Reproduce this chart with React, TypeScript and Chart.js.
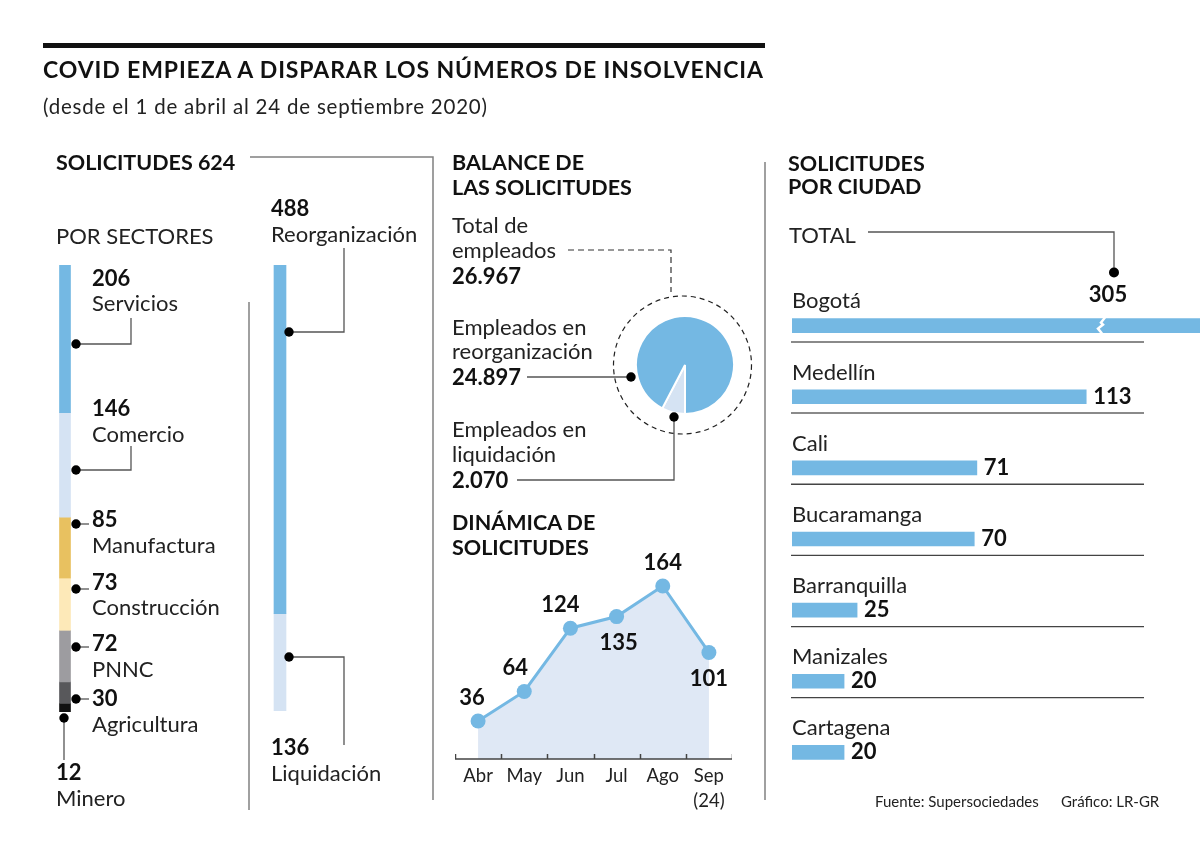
import React, { useEffect, useRef } from 'react';
import { Chart, registerables } from 'chart.js';

Chart.register(...registerables);

// ---------- DATA ----------
const TOTAL_REQUESTS = 624;
const SECTOR_NAMES = ['Servicios', 'Comercio', 'Manufactura', 'Construcción', 'PNNC', 'Agricultura', 'Minero'];
const SECTOR_VALUES = [206, 146, 85, 73, 72, 30, 12];
const STATUS_NAMES = ['Reorganización', 'Liquidación'];
const STATUS_VALUES = [488, 136];
const EMPLOYEE_NAMES = ['Empleados en liquidación', 'Empleados en reorganización'];
const EMPLOYEE_VALUES = [2070, 24897];
const TOTAL_EMPLOYEES = 26967;
const MONTHS: (string | string[])[] = ['Abr', 'May', 'Jun', 'Jul', 'Ago', ['Sep', '(24)']];
const MONTH_VALUES = [36, 64, 124, 135, 164, 101];
const CITIES = ['Bogotá', 'Medellín', 'Cali', 'Bucaramanga', 'Barranquilla', 'Manizales', 'Cartagena'];
const CITY_VALUES = [305, 113, 71, 70, 25, 20, 20];

// ---------- STYLE ----------
const FONT = 'Lato, "Noto Sans", sans-serif';
const CAP = 0.7165;
const BLUE = '#74b8e3';
const LIGHT = '#d5e3f3';
const SECTOR_COLORS = [BLUE, LIGHT, '#e8c160', '#fde9b8', '#9d9ca0', '#58585b', '#111111'];
const STATUS_COLORS = [BLUE, LIGHT];
const AREA = '#dfe8f5';
const LABEL_SIDE = ['above', 'above', 'above', 'below', 'above', 'below'];
const LABEL_DX = [-6, -9, -10, 2, 0, 0];

const fmt = (v: number) => String(v).replace(/\B(?=(\d{3})+(?!\d))/g, '.');

const base: any = {
  responsive: false,
  animation: false,
  events: [],
  plugins: { legend: { display: false }, tooltip: { enabled: false } },
  layout: { padding: 0, autoPadding: false },
};

function ChartCanvas({ left, top, width, height, build }: any) {
  const ref = useRef<HTMLCanvasElement | null>(null);
  useEffect(() => {
    const chart = new Chart(ref.current as HTMLCanvasElement, build());
    return () => chart.destroy();
  }, []);
  return (
    <canvas
      ref={ref}
      width={width}
      height={height}
      style={{ position: 'absolute', left, top, width, height }}
    />
  );
}

function Txt({ x, cy, s, b, children, len, anchor, fill }: any) {
  return (
    <text
      x={x}
      y={cy + (CAP * s) / 2}
      fontSize={s}
      fontWeight={b ? 700 : 400}
      fill={fill || (b ? '#111' : '#222')}
      fontFamily={FONT}
      textLength={len}
      lengthAdjust={len ? 'spacing' : undefined}
      textAnchor={anchor}
    >
      {children}
    </text>
  );
}

// ---------- CHART BUILDERS ----------
const buildSectors = () => ({
  type: 'bar',
  data: {
    labels: ['Sectores'],
    datasets: SECTOR_VALUES.map((v, i) => ({
      label: SECTOR_NAMES[i],
      data: [v],
      backgroundColor: SECTOR_COLORS[i],
      borderWidth: 0,
      barThickness: 11,
    })),
  },
  options: {
    ...base,
    scales: {
      x: { display: false, stacked: true },
      y: { display: false, stacked: true, reverse: true, min: 0, max: TOTAL_REQUESTS },
    },
  },
});

const buildStatus = () => ({
  type: 'bar',
  data: {
    labels: ['Estado'],
    datasets: STATUS_VALUES.map((v, i) => ({
      label: STATUS_NAMES[i],
      data: [v],
      backgroundColor: STATUS_COLORS[i],
      borderWidth: 0,
      barThickness: 12,
    })),
  },
  options: {
    ...base,
    scales: {
      x: { display: false, stacked: true },
      y: { display: false, stacked: true, reverse: true, min: 0, max: TOTAL_REQUESTS },
    },
  },
});

const buildPie = () => ({
  type: 'pie',
  data: {
    labels: EMPLOYEE_NAMES,
    datasets: [
      {
        data: EMPLOYEE_VALUES,
        backgroundColor: [LIGHT, BLUE],
        borderColor: '#ffffff',
        borderWidth: 2,
      },
    ],
  },
  options: { ...base, rotation: 180 },
});

const lineLabels = {
  id: 'lineLabels',
  afterDatasetsDraw(chart: any) {
    const { ctx, chartArea } = chart;
    const n = MONTH_VALUES.length;
    ctx.save();
    ctx.strokeStyle = '#444';
    ctx.lineWidth = 1.5;
    ctx.beginPath();
    ctx.moveTo(chartArea.left, chartArea.bottom);
    ctx.lineTo(chartArea.right, chartArea.bottom);
    const step = (chartArea.right - chartArea.left) / n;
    for (let i = 0; i <= n; i++) {
      const px = Math.round(chartArea.left + i * step) + 0.5;
      ctx.moveTo(px, chartArea.bottom - 5);
      ctx.lineTo(px, chartArea.bottom);
    }
    ctx.stroke();
    const meta = chart.getDatasetMeta(0);
    ctx.font = `bold 22px ${FONT}`;
    ctx.fillStyle = '#111';
    ctx.textAlign = 'center';
    ctx.textBaseline = 'alphabetic';
    meta.data.forEach((pt: any, i: number) => {
      const dy = LABEL_SIDE[i] === 'above' ? -24 : 26;
      ctx.fillText(String(MONTH_VALUES[i]), pt.x + LABEL_DX[i], pt.y + dy + CAP * 11);
    });
    ctx.restore();
  },
};

const buildLine = () => ({
  type: 'line',
  data: {
    labels: MONTHS,
    datasets: [
      {
        data: MONTH_VALUES,
        borderColor: BLUE,
        borderWidth: 3,
        backgroundColor: AREA,
        fill: 'origin',
        tension: 0,
        pointRadius: 7.5,
        pointBackgroundColor: BLUE,
        pointBorderWidth: 0,
        clip: false,
      },
    ],
  },
  options: {
    ...base,
    scales: {
      x: {
        offset: true,
        grid: { display: false },
        border: { display: false },
        ticks: {
          color: '#222',
          padding: -3,
          font: { family: FONT, size: 18.5, lineHeight: 1.35 },
          maxRotation: 0,
          autoSkip: false,
        },
        afterFit: (scale: any) => {
          scale.height = 60;
        },
      },
      y: { display: false, min: 0, max: 200 },
    },
  },
  plugins: [lineLabels],
});

const cityLabels = {
  id: 'cityLabels',
  afterDatasetsDraw(chart: any) {
    const { ctx, chartArea, scales } = chart;
    const meta = chart.getDatasetMeta(0);
    ctx.save();
    meta.data.forEach((bar: any, i: number) => {
      ctx.font = `22px ${FONT}`;
      ctx.fillStyle = '#222';
      ctx.textAlign = 'left';
      ctx.textBaseline = 'alphabetic';
      ctx.fillText(CITIES[i], chartArea.left, bar.y - 25 + CAP * 11);
      if (i < meta.data.length - 1) {
        ctx.strokeStyle = i < 2 ? '#8a8a8a' : '#444';
        ctx.lineWidth = i < 2 ? 2 : 1.3;
        ctx.beginPath();
        ctx.moveTo(chartArea.left - 1, bar.y + 16.4);
        ctx.lineTo(chartArea.left + 352, bar.y + 16.4);
        ctx.stroke();
      }
      ctx.font = `bold 22px ${FONT}`;
      ctx.fillStyle = '#111';
      if (CITY_VALUES[i] > scales.x.max) {
        const bx = chartArea.right - 100;
        ctx.strokeStyle = '#ffffff';
        ctx.lineWidth = 2.5;
        ctx.beginPath();
        ctx.moveTo(bx + 5, bar.y - 8);
        ctx.lineTo(bx + 1, bar.y - 3);
        ctx.lineTo(bx + 3, bar.y - 1);
        ctx.lineTo(bx - 2, bar.y + 3);
        ctx.lineTo(bx + 2, bar.y + 8);
        ctx.stroke();
        ctx.textAlign = 'center';
        ctx.fillText(String(CITY_VALUES[i]), chartArea.right - 92, bar.y - 31 + CAP * 11);
      } else {
        ctx.textAlign = 'left';
        ctx.fillText(String(CITY_VALUES[i]), bar.x + 7, bar.y - 1 + CAP * 11);
      }
    });
    ctx.restore();
  },
};

const buildCities = () => ({
  type: 'bar',
  data: {
    labels: CITIES,
    datasets: [
      {
        data: CITY_VALUES,
        backgroundColor: BLUE,
        borderWidth: 0,
        barThickness: 14,
      },
    ],
  },
  options: {
    ...base,
    indexAxis: 'y',
    layout: { padding: { left: 6, top: 75, right: 0, bottom: 0 }, autoPadding: false },
    scales: {
      x: { display: false, min: 0, max: 156.7 },
      y: { display: false },
    },
  },
  plugins: [cityLabels],
});

// ---------- APP ----------
export default function App() {
  const lead = { stroke: '#555', strokeWidth: 1.3, fill: 'none' };
  const sep = { stroke: '#808080', strokeWidth: 1.5, fill: 'none' };
  return (
    <div
      style={{
        position: 'absolute',
        left: 0,
        top: 0,
        width: 1200,
        height: 853,
        background: '#fff',
        overflow: 'hidden',
      }}
    >
      <ChartCanvas left={54} top={265} width={22} height={447} build={buildSectors} />
      <ChartCanvas left={269} top={265} width={22} height={446} build={buildStatus} />
      <ChartCanvas left={635} top={315} width={100} height={100} build={buildPie} />
      <ChartCanvas left={455} top={548} width={277} height={271} build={buildLine} />
      <ChartCanvas left={786} top={215} width={414} height={573} build={buildCities} />

      <svg
        width={1200}
        height={853}
        style={{ position: 'absolute', left: 0, top: 0, pointerEvents: 'none' }}
      >
        <rect x={43} y={43} width={722} height={5} fill="#111" />
        <Txt x={43} cy={69.5} s={23} b len={720}>
          COVID EMPIEZA A DISPARAR LOS NÚMEROS DE INSOLVENCIA
        </Txt>
        <Txt x={43} cy={107} s={20.5} len={444}>
          (desde el 1 de abril al 24 de septiembre 2020)
        </Txt>

        <path d="M250 157 H433 V800" {...sep} />
        <path d="M249 302 V810" {...sep} />
        <path d="M765 162 V800" {...sep} />

        <Txt x={56} cy={162} s={21.5} b>{`SOLICITUDES ${TOTAL_REQUESTS}`}</Txt>
        <Txt x={56} cy={236} s={22}>POR SECTORES</Txt>

        <Txt x={92} cy={278} s={22} b>{SECTOR_VALUES[0]}</Txt>
        <Txt x={92} cy={303} s={22}>{SECTOR_NAMES[0]}</Txt>
        <Txt x={92} cy={408} s={22} b>{SECTOR_VALUES[1]}</Txt>
        <Txt x={92} cy={434} s={22}>{SECTOR_NAMES[1]}</Txt>
        <Txt x={92} cy={519} s={22} b>{SECTOR_VALUES[2]}</Txt>
        <Txt x={92} cy={545} s={22}>{SECTOR_NAMES[2]}</Txt>
        <Txt x={92} cy={582} s={22} b>{SECTOR_VALUES[3]}</Txt>
        <Txt x={92} cy={607} s={22}>{SECTOR_NAMES[3]}</Txt>
        <Txt x={92} cy={643} s={22} b>{SECTOR_VALUES[4]}</Txt>
        <Txt x={92} cy={669} s={22}>{SECTOR_NAMES[4]}</Txt>
        <Txt x={92} cy={698} s={22} b>{SECTOR_VALUES[5]}</Txt>
        <Txt x={92} cy={724} s={22}>{SECTOR_NAMES[5]}</Txt>
        <Txt x={56} cy={772} s={22} b>{SECTOR_VALUES[6]}</Txt>
        <Txt x={56} cy={798} s={22}>{SECTOR_NAMES[6]}</Txt>

        <path d="M76 344 H131 V318" {...lead} />
        <circle cx={76} cy={344} r={4.7} fill="#000" />
        <path d="M76 470 H131 V446" {...lead} />
        <circle cx={76} cy={470} r={4.7} fill="#000" />
        <path d="M76 524 H89" {...lead} />
        <circle cx={76} cy={524} r={4.7} fill="#000" />
        <path d="M76 589 H89" {...lead} />
        <circle cx={76} cy={589} r={4.7} fill="#000" />
        <path d="M76 647 H89" {...lead} />
        <circle cx={76} cy={647} r={4.7} fill="#000" />
        <path d="M76 699 H89" {...lead} />
        <circle cx={76} cy={699} r={4.7} fill="#000" />
        <path d="M64 718 V760" {...lead} />
        <circle cx={64} cy={718} r={4.7} fill="#000" />

        <Txt x={271} cy={208} s={22} b>{STATUS_VALUES[0]}</Txt>
        <Txt x={271} cy={234} s={22}>{STATUS_NAMES[0]}</Txt>
        <Txt x={271} cy={747} s={22} b>{STATUS_VALUES[1]}</Txt>
        <Txt x={271} cy={773} s={22}>{STATUS_NAMES[1]}</Txt>
        <path d="M289 332 H344 V248" {...lead} />
        <circle cx={289} cy={332} r={4.7} fill="#000" />
        <path d="M289 657 H344 V745" {...lead} />
        <circle cx={289} cy={657} r={4.7} fill="#000" />

        <Txt x={452} cy={162.5} s={21.5} b>BALANCE DE</Txt>
        <Txt x={452} cy={187} s={21.5} b>LAS SOLICITUDES</Txt>
        <Txt x={452} cy={224.7} s={22}>Total de</Txt>
        <Txt x={452} cy={250} s={22}>empleados</Txt>
        <Txt x={452} cy={276.5} s={22} b>{fmt(TOTAL_EMPLOYEES)}</Txt>
        <Txt x={452} cy={326.7} s={22}>Empleados en</Txt>
        <Txt x={452} cy={351.5} s={22}>reorganización</Txt>
        <Txt x={452} cy={376.7} s={22} b>{fmt(EMPLOYEE_VALUES[1])}</Txt>
        <Txt x={452} cy={429} s={22}>Empleados en</Txt>
        <Txt x={452} cy={454.3} s={22}>liquidación</Txt>
        <Txt x={452} cy={480} s={22} b>{fmt(EMPLOYEE_VALUES[0])}</Txt>

        <path d="M568 250 H671 V292" stroke="#333" strokeWidth={1.2} fill="none" strokeDasharray="6 4" />
        <circle cx={682.5} cy={365} r={69} stroke="#222" strokeWidth={1.2} fill="none" strokeDasharray="5 4" />
        <path d="M527 377 H631" {...lead} />
        <circle cx={631} cy={377} r={4.7} fill="#000" />
        <path d="M674 417 V480 H517" {...lead} />
        <circle cx={674} cy={417} r={4.7} fill="#000" />

        <Txt x={452} cy={522.5} s={21.5} b>DINÁMICA DE</Txt>
        <Txt x={452} cy={547.5} s={21.5} b>SOLICITUDES</Txt>

        <Txt x={788} cy={163.3} s={21.5} b>SOLICITUDES</Txt>
        <Txt x={788} cy={186} s={21.5} b>POR CIUDAD</Txt>
        <Txt x={789} cy={234.7} s={22}>TOTAL</Txt>
        <path d="M868 232 H1114 V272" {...lead} />
        <circle cx={1114} cy={272.5} r={5} fill="#000" />

        <Txt x={875} cy={802} s={15}>Fuente: Supersociedades</Txt>
        <Txt x={1061} cy={802} s={15}>Gráfico: LR-GR</Txt>
      </svg>
    </div>
  );
}
